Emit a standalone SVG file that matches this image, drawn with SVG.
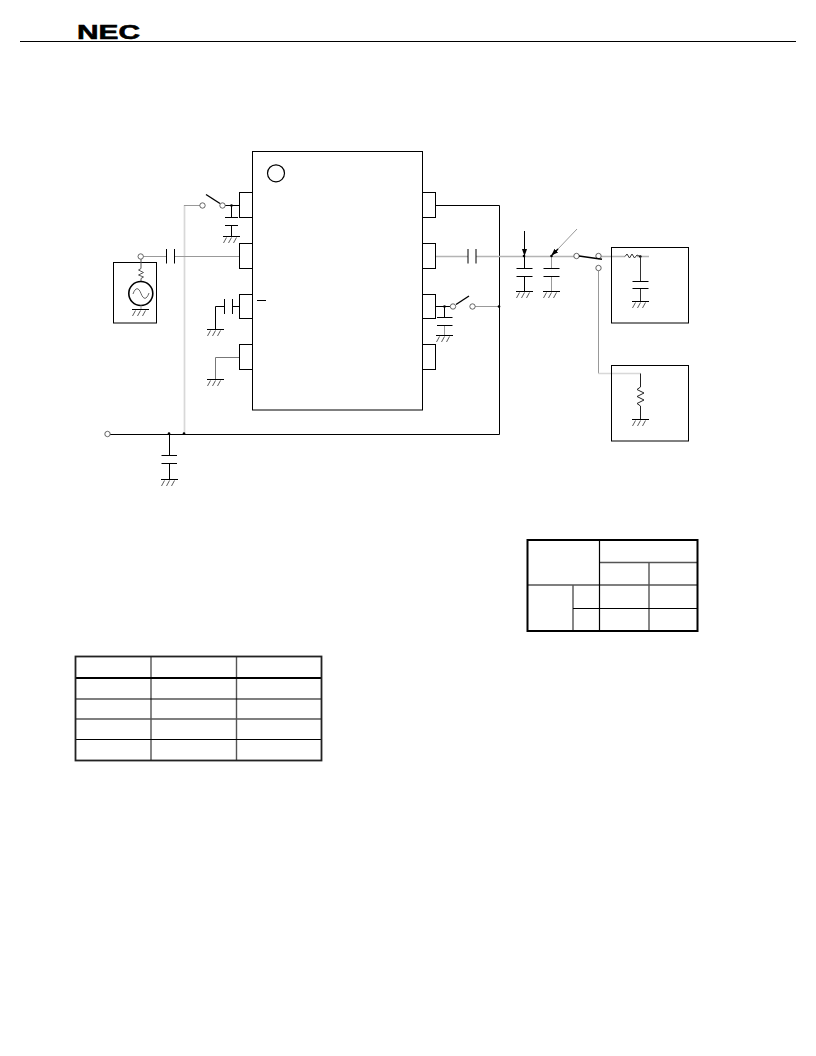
<svg xmlns="http://www.w3.org/2000/svg" width="816" height="1056" viewBox="0 0 816 1056">
<style>
.k{stroke:#000;fill:none;stroke-width:1}
.b{stroke:#000;fill:none;stroke-width:1.4}
.g{stroke:#999;fill:none;stroke-width:1}
.l{stroke:#b4b4b4;fill:none;stroke-width:1.3}
.xl{stroke:#d8d8d8;fill:none;stroke-width:1.7}
.o{stroke:#555;fill:#fff;stroke-width:.9}
.d{fill:#000}
.box{stroke:#000;fill:#fff;stroke-width:1}
.t{stroke:#000;fill:none;stroke-width:1.2}
.tg{stroke:#555;fill:none;stroke-width:1.4}
.tb{stroke:#000;fill:none;stroke-width:2}
</style>
<defs>
<g id="gnd"><path d="M-8.500 0H8.500" stroke="#000" stroke-width="1" fill="none"/><path d="M-8 6.500L-5 1M-3 6.500L0 1M2 6.500L5 1" stroke="#333" stroke-width=".8" fill="none"/></g>
<marker id="ah" viewBox="0 0 8 8" refX="7" refY="4" markerWidth="7" markerHeight="7" orient="auto" markerUnits="userSpaceOnUse"><path d="M0 1L8 4L0 7Z" fill="#000"/></marker>
</defs>
<rect width="816" height="1056" fill="#fff"/>
<g id="header">
<path d="M20 41.500H796" class="k"/>
<text x="77" y="38.500" font-family="Liberation Sans, Arial, sans-serif" font-weight="700" font-size="21" textLength="63" lengthAdjust="spacingAndGlyphs" stroke="#000" stroke-width=".6">NEC</text>
</g>
<g id="connectors">
<path d="M184.500 205V434" class="xl"/>
<path d="M184 205.500H200" class="g"/>
<path d="M206 194.500L220 203.500" class="b"/>
<path d="M225 205.500H239.500M231.500 205.500V217M231.500 225.500V236.500" class="k"/>
<path d="M225 217.500H238M225 225.500H238" class="k"/>
<use href="#gnd" x="231.500" y="236.500"/>
<path d="M143 256.500H166.500M174.500 256.500H239.500" class="g"/>
<path d="M166.500 249V263.500M174.500 249V263.500" class="k"/>
<path d="M232.500 306.500H239.500M224.500 306.500H215.500V329.500" class="k"/>
<path d="M224.500 299V314M232.500 299V314" class="k"/>
<use href="#gnd" x="215.500" y="329.500"/>
<path d="M239.500 357.500H215.500V379.500" stroke="#777" fill="none"/>
<use href="#gnd" x="215.500" y="379.500"/>
<path d="M110 434.500H499.500V205.500H435.500" class="k"/>
<path d="M169.500 434.500V455.500M169.500 463.500V479.500M161.500 455.500H177M161.500 463.500H177" class="k"/>
<use href="#gnd" x="169.500" y="479.500"/>
<circle cx="169" cy="433.500" r="1.300" class="d"/><circle cx="184" cy="433.500" r="1.300" class="d"/>
<path d="M435.500 256.500H468M476 256.500H574" class="l"/>
<path d="M468 249V263.500M476 249V263.500" class="k"/>
<path d="M524.500 231V255" class="k" marker-end="url(#ah)"/>
<path d="M524.500 256.500V268M524.500 276V291.500M516.500 268.500H532.500M516.500 276.500H532.500" class="k"/>
<use href="#gnd" x="524.500" y="291.500"/>
<circle cx="524" cy="256" r="1.300" class="d"/>
<path d="M577 229L558 249" class="g"/>
<path d="M558 249L552 255" class="b" marker-end="url(#ah)"/>
<path d="M551.500 256.500V268M551.500 276V291.500" class="g"/>
<path d="M543.500 268.500H559.500M543.500 276.500H559.500" class="k"/>
<use href="#gnd" x="551.500" y="291.500"/>
<circle cx="551.500" cy="256" r="1.300" class="d"/>
<path d="M435.500 306.500H450M444.500 306.500V317" class="k"/>
<path d="M444.500 325.500V335.500" class="g"/>
<path d="M437 317.500H452.500M437 325.500H452.500" class="k"/>
<use href="#gnd" x="444.500" y="335.500"/>
<circle cx="444.500" cy="306.500" r="1.300" class="d"/>
<path d="M456 304.500L469 296" class="b"/>
<path d="M475 306.500H499" class="g"/>
<circle cx="499" cy="306.500" r="1.300" class="d"/>
<path d="M601 256.500H625M637 256.500H649" class="l"/>
<path d="M598.500 270.500V373.500" class="g"/>
<path d="M598.500 373.500H640.500" class="xl"/>
</g>
<g id="ic"><rect x="252.500" y="151.500" width="170" height="258.500" class="box"/><circle cx="276" cy="173.300" r="8.500" fill="#fff" stroke="#000" stroke-width="1.200"/><path d="M257 300.500H266" class="k"/></g>
<g id="pinL1"><rect x="239.500" y="192.500" width="13" height="25" class="box"/></g>
<g id="pinL2"><rect x="239.500" y="243.500" width="13" height="25" class="box"/></g>
<g id="pinL3"><rect x="239.500" y="294.500" width="13" height="24" class="box"/></g>
<g id="pinL4"><rect x="239.500" y="344.500" width="13" height="25" class="box"/></g>
<g id="pinR1"><rect x="422.500" y="192.500" width="13" height="25" class="box"/></g>
<g id="pinR2"><rect x="422.500" y="243.500" width="13" height="25" class="box"/></g>
<g id="pinR3"><rect x="422.500" y="294.500" width="13" height="24" class="box"/></g>
<g id="pinR4"><rect x="422.500" y="344.500" width="13" height="25" class="box"/></g>
<g id="terminals">
<circle cx="202.500" cy="205.500" r="2.700" class="o"/><circle cx="222.500" cy="205.500" r="2.700" class="o"/>
<circle cx="107.500" cy="434" r="2.700" class="o"/><circle cx="453" cy="306.500" r="2.700" class="o"/><circle cx="472.500" cy="306.500" r="2.700" class="o"/>
<circle cx="576.500" cy="256" r="2.700" class="o"/><circle cx="598.500" cy="256" r="2.700" class="o"/><circle cx="598.500" cy="268" r="2.700" class="o"/>
<path d="M579 256L602 259.300" class="b"/>
</g>
<circle cx="231.500" cy="205.500" r="1.300" class="d"/>
<g id="source">
<rect x="113.500" y="262.500" width="43" height="60.500" class="box"/>
<path d="M141 259V268.500L138.500 270L143.500 272.500L138.500 275L143.500 277L141 278.500V281.500" stroke="#555" fill="none" stroke-width="1"/>
<circle cx="140.800" cy="293.500" r="12" fill="#fff" stroke="#000" stroke-width="1.600"/>
<path d="M133 294C135.500 287 138.500 287 141 293.500S146.500 300 149 293" stroke="#555" fill="none" stroke-width=".9"/>
<path d="M141 305.500V309.500" class="g"/>
<use href="#gnd" x="140.500" y="309.500"/>
<circle cx="140.700" cy="256.500" r="2.700" class="o"/>
</g>
<g id="load1">
<rect x="611.500" y="247.500" width="77" height="75.500" fill="none" stroke="#000"/>
<path d="M625 256.500L627 254L629.500 258L632 254L634.500 258L637 255L640 256.500" stroke="#333" fill="none" stroke-width="1"/>
<circle cx="640.300" cy="256.500" r="1.300" class="d"/>
<path d="M640.500 256.500V281M640.500 288.500V301.500" stroke="#333" fill="none"/>
<path d="M632.500 281.500H648.500M632.500 288.500H648.500" class="k"/>
<use href="#gnd" x="640.500" y="301.500"/>
</g>
<g id="load2">
<rect x="611.500" y="365.500" width="77" height="75.500" fill="none" stroke="#000"/>
<path d="M640.500 373.500V387L637 389.500L644 393L637 396.500L644 400L637 403.500L640.500 406V419.500" stroke="#222" fill="none" stroke-width="1"/>
<use href="#gnd" x="640.500" y="419.500"/>
</g>
<g id="table1">
<path d="M599.500 562.500H697M527.500 585H697M649 562.500V631M573 585V631" class="tg"/>
<path d="M573 608.500H697M599.500 540V631" class="t"/>
<rect x="527.500" y="540" width="170" height="91" class="tb"/>
</g>
<g id="table2">
<path d="M151 656V760M236.500 656V760M75 719H321" class="tg"/>
<path d="M75 699H321M75 739.500H321" class="t"/>
<path d="M75 678H321" class="tb"/>
<rect x="75.500" y="656.500" width="246" height="104" fill="none" stroke="#222" stroke-width="1.800"/>
</g>
</svg>
